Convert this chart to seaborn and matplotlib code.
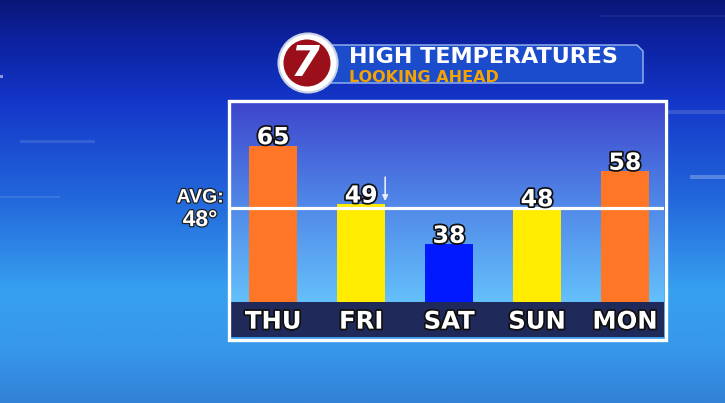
import numpy as np
import pandas as pd
import matplotlib
matplotlib.use("Agg")
import matplotlib.pyplot as plt
import seaborn as sns
from matplotlib import patheffects as pe
from matplotlib.patches import Rectangle, Circle, Polygon
from matplotlib.transforms import offset_copy

# ---------------- data ----------------
days = ["THU", "FRI", "SAT", "SUN", "MON"]
highs = [65, 49, 38, 48, 58]
bar_colors = ["#ff7626", "#ffec00", "#0019ff", "#ffec00", "#ff7626"]
avg_temp = 48
title_text = "HIGH TEMPERATURES"
subtitle_text = "LOOKING AHEAD"
avg_label = "AVG:"
avg_value_label = "48°"

sns.set_theme(style="white")
plt.rcParams["font.family"] = ["DejaVu Sans"]

W, H = 725, 403
fig = plt.figure(figsize=(7.25, 4.03), dpi=100)


def px_rect(x0, y0, x1, y1):
    return [x0 / W, 1 - y1 / H, (x1 - x0) / W, (y1 - y0) / H]


def vgrad(stops, n):
    ys = np.linspace(0, 1, n)
    pos = [s[0] for s in stops]
    cols = np.array([s[1] for s in stops], dtype=float) / 255
    arr = np.stack([np.interp(ys, pos, cols[:, k]) for k in range(3)], axis=-1)
    return arr[:, None, :]


# ---------------- background ----------------
bg = fig.add_axes([0, 0, 1, 1], zorder=0)
bg.imshow(vgrad([(0.0, (10, 22, 120)), (0.1, (12, 34, 160)), (0.25, (20, 54, 200)),
                 (0.5, (35, 105, 220)), (0.72, (55, 160, 240)), (0.86, (55, 152, 234)),
                 (1.0, (50, 130, 215))], 403),
          extent=[0, W, H, 0], aspect="auto", interpolation="bilinear")
bg.set_xlim(0, W)
bg.set_ylim(H, 0)
bg.axis("off")
# faint decorative streaks
for (x0, y0, w, h, a) in [(690, 175, 35, 4, 0.25), (665, 110, 60, 4, 0.15),
                          (0, 75, 3, 3, 0.5), (0, 196, 60, 2, 0.10),
                          (20, 140, 75, 3, 0.12), (600, 15, 125, 2, 0.06)]:
    bg.add_patch(Rectangle((x0, y0), w, h, color="white", alpha=a, lw=0))
# dark label band
bg.add_patch(Rectangle((231, 301.7), 433, 35, color="#1f2a5b", lw=0))

# plot-area gradient
box = fig.add_axes(px_rect(231, 103, 664, 302), zorder=0.5)
box.imshow(vgrad([(0.0, (62, 70, 204)), (0.5, (80, 135, 232)), (1.0, (100, 192, 250))], 200),
           extent=[0, 1, 0, 1], aspect="auto", interpolation="bilinear")
box.axis("off")

# ---------------- main chart ----------------
ax = fig.add_axes(px_rect(231, 103, 664, 302), zorder=1)
ax.set_facecolor("none")
df = pd.DataFrame({"day": days, "high": highs})
sns.barplot(data=df, x="day", y="high", hue="day", palette=bar_colors,
            width=0.55, saturation=1, legend=False, ax=ax, linewidth=0)
ax.set_xlim(-0.48, 4.443)
ax.set_ylim(22.2, 76.7)
ax.axhline(avg_temp, color="white", lw=2.3, zorder=3)
for s in ax.spines.values():
    s.set_visible(False)
ax.set_xlabel("")
ax.set_ylabel("")
ax.set_yticks([])
ax.tick_params(axis="x", length=0, pad=5.5, labelsize=17.5, labelcolor="white")
stroke = [pe.withStroke(linewidth=2.5, foreground="#101010")]
for lbl in ax.get_xticklabels():
    lbl.set_fontweight("bold")
    lbl.set_path_effects(stroke)

# value labels
for i, v in enumerate(highs):
    ax.annotate(str(v), (i, v), xytext=(0, 1.1), textcoords="offset points",
                ha="center", va="baseline", fontsize=17, fontweight="bold",
                color="white", path_effects=stroke, zorder=5)

# small arrow next to FRI
tip = offset_copy(ax.transData, fig=fig, x=24, y=3, units="dots")
tail = offset_copy(ax.transData, fig=fig, x=24, y=27, units="dots")
ax.annotate("", xy=(1, highs[1]), xycoords=tip, xytext=(1, highs[1]), textcoords=tail,
            arrowprops=dict(arrowstyle="-|>", color="#e6ecf6", lw=1.2,
                            mutation_scale=8, shrinkA=0, shrinkB=0))

# AVG labels
avg_font = dict(fontweight="bold", color="white",
                family=["Liberation Sans", "DejaVu Sans"], va="baseline",
                path_effects=[pe.withStroke(linewidth=1.8, foreground="#202020")],
                annotation_clip=False)
ax.annotate(avg_label, xy=(0, avg_temp), xycoords=("axes fraction", "data"),
            xytext=(-5.2, 3.8), textcoords="offset points", ha="right",
            fontsize=14, **avg_font)
ax.annotate(avg_value_label, xy=(0, avg_temp), xycoords=("axes fraction", "data"),
            xytext=(-34.8, -13.2), textcoords="offset points", ha="left",
            fontsize=16.5, **avg_font)

# ---------------- overlay: frame, title ----------------
ov = fig.add_axes([0, 0, 1, 1], zorder=3)
ov.set_xlim(0, W)
ov.set_ylim(H, 0)
ov.axis("off")
ov.patch.set_alpha(0)
ov.add_patch(Rectangle((229.5, 101.2), 436.8, 238.3, fill=False, ec="white", lw=2.4))

# banner
ov.add_patch(Polygon([(330, 45), (637, 45), (643, 51), (643, 83), (330, 83)],
                     closed=True, fc="#1a4ccc", ec="#9ab8f0", lw=1.0))
ov.text(349, 63, title_text, fontsize=16, fontweight="bold", color="white",
        ha="left", va="baseline")
ov.text(349, 81.5, subtitle_text, fontsize=11.5, fontweight="bold", color="#f4a300",
        ha="left", va="baseline")
# logo
ov.add_patch(Circle((308, 63), 29.5, fc="white", ec="#c8d2e6", lw=1.5))
ov.add_patch(Circle((307, 63), 23.5, fc="#9a0f1a", ec="none"))
ov.text(305, 64, "7", fontsize=30, fontweight="bold", style="italic", color="white",
        ha="center", va="center")

fig.savefig("out.png", dpi=100)
